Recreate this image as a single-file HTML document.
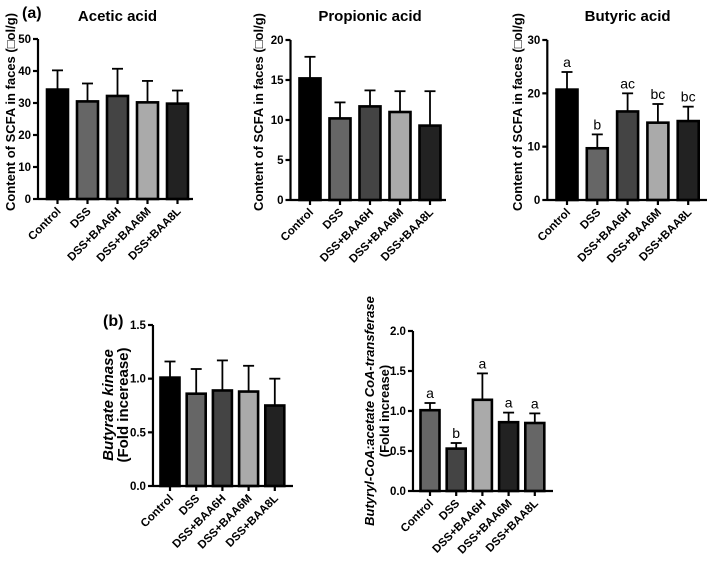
<!DOCTYPE html>
<html><head><meta charset="utf-8"><style>
html,body{margin:0;padding:0;background:#fff}
svg{display:block;font-family:"Liberation Sans",Arial,sans-serif;font-weight:bold}
</style></head><body>
<svg id="fig" width="709" height="563" viewBox="0 0 709 563" xmlns="http://www.w3.org/2000/svg"></svg>
<script>
const categories = ["Control","DSS","DSS+BAA6H","DSS+BAA6M","DSS+BAA8L"];
const aceticValues = [34.2,30.5,32.2,30.2,29.8];
const aceticErrors = [6.0,5.6,8.5,6.7,4.1];
const propionicValues = [15.2,10.2,11.7,11.0,9.3];
const propionicErrors = [2.7,2.0,2.0,2.6,4.3];
const butyricValues = [20.7,9.7,16.6,14.5,14.8];
const butyricErrors = [3.3,2.6,3.4,3.5,2.7];
const butyricLetters = ["a","b","ac","bc","bc"];
const kinaseValues = [1.01,0.86,0.89,0.88,0.75];
const kinaseErrors = [0.15,0.23,0.28,0.24,0.25];
const transferaseValues = [1.01,0.53,1.14,0.86,0.85];
const transferaseErrors = [0.09,0.07,0.33,0.12,0.12];
const transferaseLetters = ["a","b","a","a","a"];
const ticksAcetic = [0,10,20,30,40,50];
const ticksPropionic = [0,5,10,15,20];
const ticksButyric = [0,10,20,30];
const ticksKinase = ["0.0","0.5","1.0","1.5"];
const ticksTransferase = ["0.0","0.5","1.0","1.5","2.0"];

const NS="http://www.w3.org/2000/svg";
const svg=document.getElementById('fig');
function mk(tag,attrs,parent,text){const e=document.createElementNS(NS,tag);for(const k in attrs)e.setAttribute(k,attrs[k]);if(text!==undefined)e.textContent=text;(parent||svg).appendChild(e);return e;}

function panel(o){
  const g=mk('g',{});
  
  
  const ticks=o.ticks.map(Number);
  const max=ticks[ticks.length-1];
  const y=v=>o.y0-(v/max)*(o.y0-o.yTop);
  const x=i=>o.x0+i*o.step;
  const bw=o.bw||21;
  categories.forEach((c,i)=>{
    const v=o.values[i],e=o.errors[i],cx=x(i);
    const eb=mk('line',{x1:cx,x2:cx,y1:y(v),y2:y(v+e),stroke:'#000','stroke-width':1.8},g);
    
    
    const cap=mk('line',{x1:cx-5.5,x2:cx+5.5,y1:y(v+e),y2:y(v+e),stroke:'#000','stroke-width':1.8},g);
    
    
    const r=mk('rect',{x:cx-bw/2,y:y(v),width:bw,height:o.y0-y(v),fill:o.colors[i],stroke:'#000','stroke-width':2.6},g);
    
    
    if(o.letters){
      const t=mk('text',{x:cx,y:y(v+e)-5,'text-anchor':'middle','font-size':14,'font-weight':'normal'},g,o.letters[i]);
      
      
    }
    mk('line',{x1:cx,x2:cx,y1:o.y0,y2:o.y0+5,stroke:'#000','stroke-width':2.2},g);
    const lab=mk('text',{x:cx+4,y:o.y0+13,'text-anchor':'end','font-size':11.5,transform:`rotate(-45 ${cx+4} ${o.y0+13})`},g,c);
    
    
  });
  const ax=mk('line',{x1:o.x0-o.step*0.65,x2:o.xEnd,y1:o.y0,y2:o.y0,stroke:'#000','stroke-width':2.2},g);
  
  
  const axx=o.x0-o.step*0.65;
  const ay=mk('line',{x1:axx,x2:axx,y1:o.y0+1,y2:o.yTop,stroke:'#000','stroke-width':2.2},g);
  
  
  o.ticks.forEach(t=>{
    const ty=y(Number(t));
    mk('line',{x1:axx-5,x2:axx,y1:ty,y2:ty,stroke:'#000','stroke-width':2.2},g);
    const tl=mk('text',{x:axx-7,y:ty+4,'text-anchor':'end','font-size':11.5},g,t);
    
    
  });
  if(o.title){
    const tt=mk('text',{x:o.x0+2*o.step,y:21,'text-anchor':'middle','font-size':15},g,o.title);
    
    
  }
  o.ylabels.forEach((l,k)=>{
    const t=mk('text',{x:l.x,y:l.y,'text-anchor':'middle','font-size':l.size||12,'font-style':l.italic?'italic':'normal',transform:`rotate(-90 ${l.x} ${l.y})`},g,l.t);
    
    
  });
}
const cA=["#000","#666","#444","#aaa","#222"];
const ylab="Content of SCFA in faces (\u25A1ol/g)";
panel({name:'acetic-acid-chart',title:'Acetic acid',values:aceticValues,errors:aceticErrors,ticks:ticksAcetic,x0:57.5,step:30,y0:199,yTop:39,xEnd:193,colors:cA,ylabels:[{t:ylab,x:15,y:112,size:13}]});
panel({name:'propionic-acid-chart',title:'Propionic acid',values:propionicValues,errors:propionicErrors,ticks:ticksPropionic,x0:310,step:30,y0:200,yTop:40,xEnd:446,colors:cA,ylabels:[{t:ylab,x:263,y:112,size:13}]});
panel({name:'butyric-acid-chart',title:'Butyric acid',values:butyricValues,errors:butyricErrors,ticks:ticksButyric,letters:butyricLetters,x0:567,step:30.3,y0:200,yTop:40,xEnd:707,colors:cA,ylabels:[{t:ylab,x:522,y:112,size:13}]});
panel({name:'butyrate-kinase-chart',values:kinaseValues,errors:kinaseErrors,ticks:ticksKinase,x0:170,step:26.2,y0:486,yTop:325,xEnd:293,bw:19,colors:cA,ylabels:[{t:'Butyrate kinase',x:113,y:405,italic:true,size:15},{t:'(Fold incerease)',x:128,y:405,size:15}]});
panel({name:'transferase-chart',values:transferaseValues,errors:transferaseErrors,ticks:ticksTransferase,letters:transferaseLetters,x0:430,step:26.2,y0:491,yTop:331,xEnd:553,bw:19,colors:["#666","#444","#aaa","#222","#666"],ylabels:[{t:'Butyryl-CoA:acetate CoA-transferase',x:374,y:411,italic:true,size:13},{t:'(Fold increase)',x:389,y:411,size:13}]});
const pa=mk('text',{x:22,y:18,'font-size':16},svg,'(a)');


const pb=mk('text',{x:103,y:326,'font-size':16},svg,'(b)');


</script>
</body></html>
